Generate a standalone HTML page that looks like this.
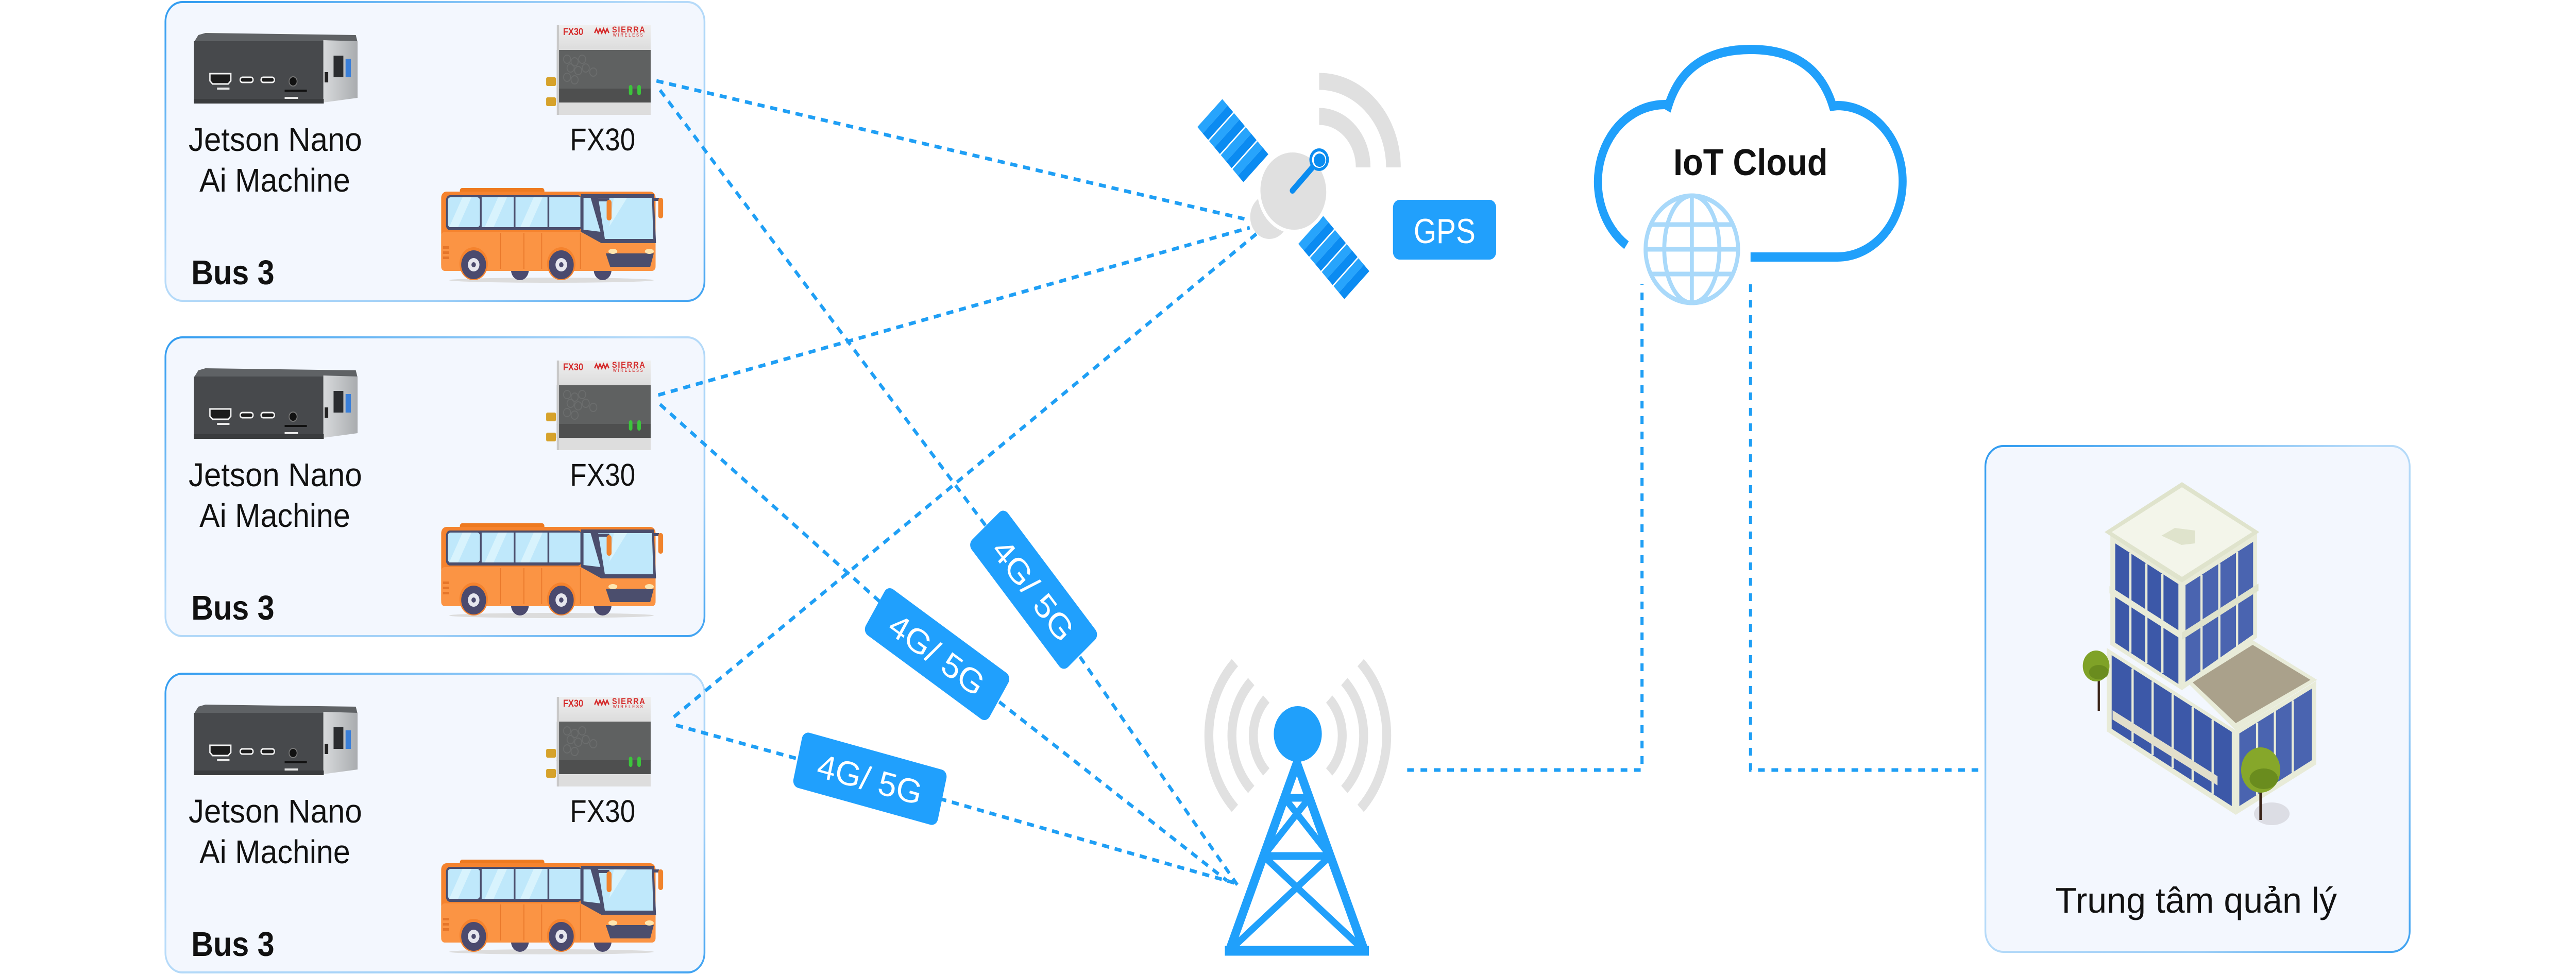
<!DOCTYPE html>
<html>
<head>
<meta charset="utf-8">
<style>
  html,body{margin:0;padding:0;background:#ffffff;width:100%;height:100%;overflow:hidden;}
  svg{display:block;position:absolute;left:0;top:0;width:100vw;height:100vh;}
  text{font-family:"Liberation Sans", sans-serif;}
</style>
</head>
<body>
<svg viewBox="0 0 5792 1893" preserveAspectRatio="none" xmlns="http://www.w3.org/2000/svg" xmlns:xlink="http://www.w3.org/1999/xlink">
<defs>
  <linearGradient id="bd" x1="0" y1="0" x2="1" y2="1">
    <stop offset="0" stop-color="#2f9bf0"/>
    <stop offset="0.45" stop-color="#b9dcf9"/>
    <stop offset="0.75" stop-color="#9fcff7"/>
    <stop offset="1" stop-color="#3ea2f1"/>
  </linearGradient>
  <linearGradient id="rtTop" x1="0" y1="0" x2="0" y2="1">
    <stop offset="0" stop-color="#efefef"/>
    <stop offset="1" stop-color="#dcdcdc"/>
  </linearGradient>
  <linearGradient id="jetSide" x1="0" y1="0" x2="1" y2="0">
    <stop offset="0" stop-color="#d8dadc"/>
    <stop offset="1" stop-color="#a9acaf"/>
  </linearGradient>

  <g id="jet">
    <polygon points="446,68 462,64 800,68 804,82 436,82" fill="#5f6265"/>
    <rect x="436" y="80" width="292" height="118" fill="#47494c"/>
    <polygon points="727,78 804,80 804,190 727,199" fill="url(#jetSide)"/>
    <rect x="436" y="192" width="292" height="9" fill="#3a3c3e"/>
    <path d="M472,143 h47 v14 l-6,6 h-35 l-6,-6 z" fill="#1c1c1c" stroke="#f2f2f2" stroke-width="3"/>
    <rect x="540" y="150" width="29" height="10" rx="5" fill="#1c1c1c" stroke="#f2f2f2" stroke-width="3"/>
    <rect x="587" y="150" width="30" height="10" rx="5" fill="#1c1c1c" stroke="#f2f2f2" stroke-width="3"/>
    <circle cx="659" cy="158" r="9" fill="#111" stroke="#777" stroke-width="2"/>
    <rect x="640" y="174" width="50" height="4" fill="#111"/>
    <rect x="488" y="170" width="28" height="4" fill="#e8e8e8"/>
    <rect x="640" y="188" width="30" height="4" fill="#e8e8e8"/>
    <rect x="750" y="108" width="22" height="42" fill="#2b2d30"/>
    <rect x="777" y="114" width="12" height="36" fill="#3a7fd8"/>
    <rect x="730" y="140" width="8" height="20" fill="#222"/>
  </g>

  <g id="rt">
    <rect x="1228" y="150" width="22" height="17" rx="3" fill="#d6a22b"/>
    <rect x="1228" y="189" width="22" height="17" rx="3" fill="#d6a22b"/>
    <rect x="1252" y="49" width="211" height="48" fill="url(#rtTop)"/>
    <rect x="1252" y="97" width="211" height="76" fill="#5f6161"/>
    <rect x="1252" y="172" width="211" height="27" fill="#4e4f4f"/>
    <rect x="1252" y="199" width="211" height="24" fill="#dddddd"/>
    <rect x="1252" y="49" width="5" height="174" fill="#c9c9c9"/>
    <g fill="none" stroke="#6b6d6d" stroke-width="2">
      <circle cx="1275" cy="115" r="8"/><circle cx="1292" cy="120" r="8"/><circle cx="1309" cy="115" r="8"/>
      <circle cx="1283" cy="132" r="8"/><circle cx="1300" cy="137" r="8"/><circle cx="1317" cy="132" r="8"/>
      <circle cx="1275" cy="150" r="8"/><circle cx="1292" cy="155" r="8"/><circle cx="1334" cy="140" r="8"/>
    </g>
    <text x="1266" y="68" font-size="19" font-weight="bold" fill="#d42a2a">FX30</text>
    <polyline points="1337,64 1341,56 1345,64 1349,56 1353,64 1357,56 1361,64 1365,56 1369,64" fill="none" stroke="#d42a2a" stroke-width="3"/>
    <text x="1376" y="63" font-size="17" font-weight="bold" fill="#d42a2a" letter-spacing="2">SIERRA</text>
    <text x="1378" y="71" font-size="9" fill="#d42a2a" letter-spacing="3">WIRELESS</text>
    <rect x="1414" y="165" width="8" height="20" rx="4" fill="#3cc43c"/>
    <rect x="1433" y="165" width="8" height="20" rx="4" fill="#3cc43c"/>
  </g>

  <g id="bus">
    <ellipse cx="1240" cy="544" rx="230" ry="5" fill="#dcdcdc"/>
    <circle cx="1169" cy="524" r="20" fill="#4b4a6e"/>
    <circle cx="1355" cy="524" r="20" fill="#4b4a6e"/>
    <rect x="1034" y="365" width="190" height="14" rx="5" fill="#ee7a20"/>
    <rect x="992" y="372" width="482" height="154" rx="12" fill="#f5832e"/>
    <rect x="992" y="450" width="482" height="76" rx="8" fill="#fb9444"/>
    <rect x="1003" y="379" width="305" height="68" rx="9" fill="#4b4e6d"/>
    <rect x="1007" y="383" width="72" height="58" rx="6" fill="#bfe8fb"/>
    <rect x="1083" y="383" width="72" height="58" fill="#bfe8fb"/>
    <rect x="1159" y="383" width="72" height="58" fill="#bfe8fb"/>
    <rect x="1235" y="383" width="70" height="58" fill="#bfe8fb"/>
    <polygon points="1040,383 1060,383 1030,441 1010,441" fill="#d8f3fd"/>
    <polygon points="1120,383 1140,383 1110,441 1090,441" fill="#d8f3fd"/>
    <polygon points="1200,383 1220,383 1190,441 1170,441" fill="#d8f3fd"/>
    <polygon points="1306,377 1470,377 1475,472 1352,472 1306,450" fill="#4b4e6d"/>
    <polygon points="1312,384 1328,384 1350,450 1312,446" fill="#bfe8fb"/>
    <polygon points="1345,384 1466,384 1469,464 1360,464" fill="#bfe8fb"/>
    <polygon points="1380,384 1410,384 1370,440" fill="#d8f3fd"/>
    <line x1="1125" y1="452" x2="1125" y2="522" stroke="#e9782b" stroke-width="2"/>
    <line x1="1178" y1="452" x2="1178" y2="522" stroke="#e9782b" stroke-width="2"/>
    <line x1="1218" y1="452" x2="1218" y2="522" stroke="#e9782b" stroke-width="2"/>
    <line x1="1305" y1="452" x2="1305" y2="522" stroke="#e9782b" stroke-width="2"/>
    <rect x="996" y="478" width="14" height="5" fill="#e5762a"/>
    <rect x="996" y="488" width="14" height="5" fill="#e5762a"/>
    <rect x="996" y="498" width="14" height="5" fill="#e5762a"/>
    <polygon points="1362,492 1470,492 1462,518 1372,518" fill="#4b4e6d"/>
    <ellipse cx="1378" cy="488" rx="10" ry="5" fill="#fde6b0"/>
    <ellipse cx="1460" cy="488" rx="10" ry="5" fill="#fde6b0"/>
    <rect x="1340" y="385" width="30" height="6" fill="#4b4e6d"/>
    <rect x="1364" y="388" width="11" height="40" rx="5" fill="#f0832c"/>
    <rect x="1468" y="384" width="14" height="6" fill="#4b4e6d"/>
    <rect x="1480" y="384" width="11" height="40" rx="5" fill="#f0832c"/>
    <circle cx="1065" cy="512" r="32" fill="#f5832e"/>
    <circle cx="1262" cy="512" r="32" fill="#f5832e"/>
    <circle cx="1065" cy="514" r="28" fill="#4b4a6e"/>
    <circle cx="1065" cy="514" r="13" fill="#e6e6ee"/>
    <circle cx="1065" cy="514" r="5" fill="#4b4a6e"/>
    <circle cx="1262" cy="514" r="28" fill="#4b4a6e"/>
    <circle cx="1262" cy="514" r="13" fill="#e6e6ee"/>
    <circle cx="1262" cy="514" r="5" fill="#4b4a6e"/>
  </g>

  <g id="panel">
    <rect x="-74.5" y="-39" width="149" height="78" fill="#ffffff"/>
    <rect x="-74.5" y="-39" width="17.5" height="78" fill="#27a4fc"/>
    <rect x="-57" y="-39" width="17.5" height="78" fill="#0b8bf1"/>
    <rect x="-36.5" y="-39" width="17.5" height="78" fill="#27a4fc"/>
    <rect x="-19" y="-39" width="17.5" height="78" fill="#0b8bf1"/>
    <rect x="1.5" y="-39" width="17.5" height="78" fill="#27a4fc"/>
    <rect x="19" y="-39" width="17.5" height="78" fill="#0b8bf1"/>
    <rect x="39.5" y="-39" width="17.5" height="78" fill="#27a4fc"/>
    <rect x="57" y="-39" width="17.5" height="78" fill="#0b8bf1"/>
  </g>
</defs>

<rect x="0" y="0" width="5792" height="1893" fill="#ffffff"/>

<rect x="372" y="4" width="1212" height="580" rx="38" fill="#f3f7fe" stroke="url(#bd)" stroke-width="4"/>
<rect x="372" y="655" width="1212" height="580" rx="38" fill="#f3f7fe" stroke="url(#bd)" stroke-width="4"/>
<rect x="372" y="1308" width="1212" height="580" rx="38" fill="#f3f7fe" stroke="url(#bd)" stroke-width="4"/>

<use href="#jet" xlink:href="#jet"/>
<use href="#rt" xlink:href="#rt"/>
<use href="#bus" xlink:href="#bus"/>
<use href="#jet" xlink:href="#jet" transform="translate(0,651)"/>
<use href="#rt" xlink:href="#rt" transform="translate(0,651)"/>
<use href="#bus" xlink:href="#bus" transform="translate(0,651)"/>
<use href="#jet" xlink:href="#jet" transform="translate(0,1304)"/>
<use href="#rt" xlink:href="#rt" transform="translate(0,1304)"/>
<use href="#bus" xlink:href="#bus" transform="translate(0,1304)"/>

<g fill="#111111" font-size="64" text-anchor="middle">
  <text x="619" y="293" textLength="390" lengthAdjust="spacingAndGlyphs">Jetson Nano</text>
  <text x="618" y="372" textLength="339" lengthAdjust="spacingAndGlyphs">Ai Machine</text>
  <text x="1355" y="292" font-size="61" textLength="147" lengthAdjust="spacingAndGlyphs">FX30</text>
  <text x="619" y="944" textLength="390" lengthAdjust="spacingAndGlyphs">Jetson Nano</text>
  <text x="618" y="1023" textLength="339" lengthAdjust="spacingAndGlyphs">Ai Machine</text>
  <text x="1355" y="943" font-size="61" textLength="147" lengthAdjust="spacingAndGlyphs">FX30</text>
  <text x="619" y="1597" textLength="390" lengthAdjust="spacingAndGlyphs">Jetson Nano</text>
  <text x="618" y="1676" textLength="339" lengthAdjust="spacingAndGlyphs">Ai Machine</text>
  <text x="1355" y="1596" font-size="61" textLength="147" lengthAdjust="spacingAndGlyphs">FX30</text>
</g>
<g fill="#111111" font-size="67" font-weight="bold">
  <text x="430" y="552" textLength="187" lengthAdjust="spacingAndGlyphs">Bus 3</text>
  <text x="430" y="1203" textLength="187" lengthAdjust="spacingAndGlyphs">Bus 3</text>
  <text x="430" y="1856" textLength="187" lengthAdjust="spacingAndGlyphs">Bus 3</text>
</g>

<g fill="none" stroke="#1f9ff5" stroke-width="7" stroke-dasharray="16 13">
  <line x1="1476" y1="157" x2="2798" y2="425"/>
  <line x1="1480" y1="767" x2="2810" y2="442"/>
  <line x1="1515" y1="1392" x2="2825" y2="454"/>
  <polyline points="1484,175 2324,1145 2782,1718"/>
  <polyline points="1484,785 2107,1268 2759,1710"/>
  <polyline points="1520,1408 1956,1512 2783,1716"/>
  <polyline points="3164,1495 3692,1495 3692,552" stroke-dasharray="15 15"/>
  <polyline points="3936,552 3936,1495 4464,1495" stroke-dasharray="15 15"/>
</g>

<g transform="translate(2324,1145) rotate(49)">
  <rect x="-164" y="-54" width="328" height="108" rx="14" fill="#20a0fd"/>
  <text x="0" y="24" font-size="66" fill="#ffffff" text-anchor="middle" textLength="240" lengthAdjust="spacingAndGlyphs">4G/ 5G</text>
</g>
<g transform="translate(2107,1270) rotate(32.5)">
  <rect x="-165" y="-53" width="330" height="106" rx="14" fill="#20a0fd"/>
  <text x="0" y="24" font-size="66" fill="#ffffff" text-anchor="middle" textLength="240" lengthAdjust="spacingAndGlyphs">4G/ 5G</text>
</g>
<g transform="translate(1956,1512) rotate(13.5)">
  <rect x="-167" y="-55" width="334" height="110" rx="14" fill="#20a0fd"/>
  <text x="0" y="24" font-size="66" fill="#ffffff" text-anchor="middle" textLength="240" lengthAdjust="spacingAndGlyphs">4G/ 5G</text>
</g>

<g fill="none" stroke="#e0e0e0" stroke-width="33">
  <path d="M2966,226 A99,99 0 0 1 3065,325"/>
  <path d="M2966,158 A167,167 0 0 1 3133,325"/>
</g>
<use href="#panel" xlink:href="#panel" transform="translate(2772,273) rotate(46)"/>
<use href="#panel" xlink:href="#panel" transform="translate(2999,500) rotate(46)"/>
<circle cx="2854" cy="421" r="43" fill="#e0e0e0"/>
<ellipse cx="2908" cy="371" rx="77" ry="79" transform="rotate(-30 2908 371)" fill="#e0e0e0" stroke="#ffffff" stroke-width="7"/>
<line x1="2906" y1="370" x2="2962" y2="314" stroke="#0a8cf0" stroke-width="12" stroke-linecap="round"/>
<circle cx="2966" cy="310" r="22" fill="#0a8cf0"/>
<circle cx="2966" cy="310" r="16" fill="#ffffff"/>
<circle cx="2967" cy="311" r="13" fill="#0a8cf0"/>

<rect x="3132" y="388" width="232" height="116" rx="15" fill="#21a0fc"/>
<text x="3248" y="472" font-size="68" fill="#ffffff" text-anchor="middle" textLength="139" lengthAdjust="spacingAndGlyphs">GPS</text>

<g fill="none" stroke="#e1e1e1" stroke-width="20">
  <path d="M2847.3,1357.3 A100,100 0 0 0 2847.3,1498.7"/>
  <path d="M2988.7,1357.3 A100,100 0 0 1 2988.7,1498.7"/>
  <path d="M2813.3,1323.3 A148,148 0 0 0 2813.3,1532.7"/>
  <path d="M3022.7,1323.3 A148,148 0 0 1 3022.7,1532.7"/>
  <path d="M2776.6,1286.6 A200,200 0 0 0 2776.6,1569.4"/>
  <path d="M3059.4,1286.6 A200,200 0 0 1 3059.4,1569.4"/>
</g>
<circle cx="2918" cy="1425" r="54" fill="#20a0fb"/>
<g stroke="#20a0fb" fill="none" stroke-linejoin="miter">
  <polyline points="2764,1846 2916,1482 3068,1846" stroke-width="19"/>
  <line x1="2754" y1="1846" x2="3078" y2="1846" stroke-width="19"/>
  <line x1="2885" y1="1549" x2="2947" y2="1549" stroke-width="15"/>
  <line x1="2839" y1="1662" x2="2993" y2="1662" stroke-width="15"/>
  <line x1="2888" y1="1549" x2="2991" y2="1662" stroke-width="14"/>
  <line x1="2944" y1="1549" x2="2841" y2="1662" stroke-width="14"/>
  <line x1="2841" y1="1662" x2="3068" y2="1846" stroke-width="14"/>
  <line x1="2991" y1="1662" x2="2764" y2="1846" stroke-width="14"/>
</g>

<path d="M3657,476 A150,150 0 0 1 3745,203 L3751,206 C3782,118 3860,96 3936,96 C4012,96 4090,118 4121,206 L4131,205 A147,147 0 0 1 4278,352 A147,147 0 0 1 4131,499 L3936,499" fill="none" stroke="#20a0fb" stroke-width="18"/>
<circle cx="3804" cy="484" r="109" fill="#ffffff"/>
<g fill="none" stroke="#a9d9fa" stroke-width="9">
  <circle cx="3804" cy="484" r="104"/>
  <ellipse cx="3804" cy="484" rx="62" ry="104"/>
  <line x1="3804" y1="380" x2="3804" y2="588"/>
  <line x1="3712" y1="436" x2="3896" y2="436"/>
  <line x1="3700" y1="484" x2="3908" y2="484"/>
  <line x1="3712" y1="532" x2="3896" y2="532"/>
</g>
<text x="3936" y="340" font-size="72" font-weight="bold" fill="#111111" text-anchor="middle" textLength="347" lengthAdjust="spacingAndGlyphs">IoT Cloud</text>

<rect x="4464" y="866" width="954" height="982" rx="40" fill="#f3f7fe" stroke="url(#bd)" stroke-width="4"/>
<g>
  <polygon points="4737,1258 5027,1418 5027,1582 4737,1420" fill="#e8ebd8"/>
  <polygon points="4748,1272 5018,1421 5018,1565 4748,1415" fill="#3c58a8"/>
  <g stroke="#e8ebd8" stroke-width="5">
    <line x1="4795" y1="1298" x2="4795" y2="1441"/>
    <line x1="4840" y1="1323" x2="4840" y2="1466"/>
    <line x1="4885" y1="1348" x2="4885" y2="1491"/>
    <line x1="4930" y1="1373" x2="4930" y2="1516"/>
    <line x1="4975" y1="1397" x2="4975" y2="1541"/>
  </g>
  <polygon points="4750,1379 4986,1507 4986,1525 4750,1397" fill="#e2dfcc"/>
  <polygon points="5027,1418 5208,1322 5208,1484 5027,1582" fill="#e8ebd8"/>
  <polygon points="5035,1424 5198,1337 5198,1476 5035,1565" fill="#4a64b0"/>
  <g stroke="#e8ebd8" stroke-width="5">
    <line x1="5075" y1="1403" x2="5075" y2="1543"/>
    <line x1="5115" y1="1381" x2="5115" y2="1521"/>
    <line x1="5155" y1="1360" x2="5155" y2="1500"/>
  </g>
  <polygon points="4745,1038 4906,1128 4906,1340 4745,1252" fill="#e8ebd8"/>
  <polygon points="4756,1055 4898,1134 4898,1328 4756,1248" fill="#3c58a8"/>
  <polygon points="4906,1128 5075,1035 5075,1238 4906,1340" fill="#e8ebd8"/>
  <polygon points="4914,1136 5066,1052 5066,1232 4914,1324" fill="#4a64b0"/>
  <g stroke="#e8ebd8" stroke-width="5">
    <line x1="4790" y1="1074" x2="4790" y2="1267"/>
    <line x1="4826" y1="1094" x2="4826" y2="1287"/>
    <line x1="4862" y1="1114" x2="4862" y2="1307"/>
    <line x1="4950" y1="1116" x2="4950" y2="1304"/>
    <line x1="4990" y1="1094" x2="4990" y2="1282"/>
    <line x1="5030" y1="1072" x2="5030" y2="1260"/>
  </g>
  <polygon points="4743,1138 4906,1228 4906,1242 4743,1152" fill="#e8ebd8"/>
  <polygon points="4906,1228 5078,1133 5078,1147 4906,1242" fill="#dfe3cc"/>
  <polygon points="4918,1325 5065,1243 5210,1320 5027,1418" fill="#e8ebd8"/>
  <polygon points="4930,1325 5065,1252 5195,1320 5027,1404" fill="#aaa18b"/>
  <polygon points="4732,1033 4906,936 5080,1033 4906,1131" fill="#dfe3cc"/>
  <polygon points="4748,1033 4906,946 5064,1033 4906,1120" fill="#f3f5ea"/>
  <polygon points="4860,1040 4890,1025 4935,1030 4935,1055 4905,1058" fill="#dfe3cc"/>
  <line x1="4719" y1="1300" x2="4719" y2="1380" stroke="#3a2418" stroke-width="5"/>
  <circle cx="4713" cy="1293" r="30" fill="#7fa227"/>
  <ellipse cx="4719" cy="1305" rx="22" ry="14" fill="#6a8c1e"/>
  <ellipse cx="5108" cy="1580" rx="40" ry="22" fill="#dcdde4"/>
  <line x1="5083" y1="1500" x2="5083" y2="1592" stroke="#3a2418" stroke-width="6"/>
  <circle cx="5083" cy="1495" r="44" fill="#86a72a"/>
  <ellipse cx="5090" cy="1512" rx="32" ry="20" fill="#6a8c1e"/>
</g>
<text x="4938" y="1772" font-size="70" fill="#111111" text-anchor="middle" textLength="633" lengthAdjust="spacingAndGlyphs">Trung tâm quản lý</text>
</svg>
</body>
</html>
